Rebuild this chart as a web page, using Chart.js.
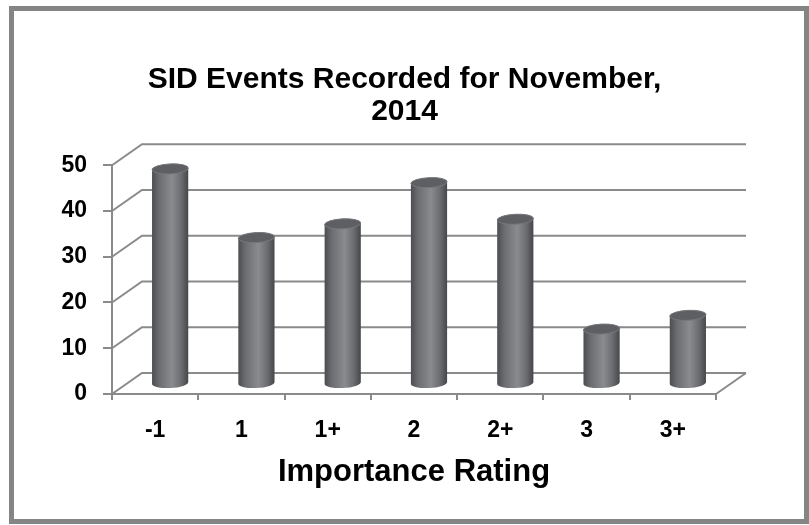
<!DOCTYPE html>
<html lang="en">
<head>
    <meta charset="UTF-8">
    <title>SID Events Recorded for November, 2014</title>
    <script src="https://cdn.jsdelivr.net/npm/chart.js"></script>
    <style>
        body { margin: 0; background: #fff; }
        #wrap { position: relative; width: 809px; height: 525px; }
        #frame { position: absolute; left: 9px; top: 6px; width: 790px; height: 508px; border: 5px solid #858585; pointer-events: none; }
    </style>
</head>
<body>
<div id="wrap">
    <canvas id="sidChart" width="809" height="525"></canvas>
    <div id="frame"></div>
</div>

<script>
    // chart data
    const categories = ['-1', '1', '1+', '2', '2+', '3', '3+'];
    const eventCounts = [47, 32, 35, 44, 36, 12, 15];
    const yTicks = [0, 10, 20, 30, 40, 50];

    const fontFamily = "'Liberation Sans', Arial, sans-serif";
    const lineColor = '#8a8a8a';

    // fake 3D: back wall offset and bar offset (half depth)
    const wall = { dx: 30, dy: -21 };
    const barShift = { dx: 15, dy: -10 };

    const walls3d = {
        id: 'walls3d',
        beforeDatasetsDraw(chart) {
            const { ctx, chartArea: a, scales: { y } } = chart;
            ctx.save();
            ctx.strokeStyle = lineColor;
            ctx.lineWidth = 2;
            yTicks.forEach(v => {
                const py = y.getPixelForValue(v);
                ctx.beginPath();
                ctx.moveTo(a.left, py);
                ctx.lineTo(a.left + wall.dx, py + wall.dy);
                ctx.lineTo(a.right + wall.dx, py + wall.dy);
                ctx.stroke();
            });
            // right edge of the floor
            ctx.beginPath();
            ctx.moveTo(a.right, a.bottom);
            ctx.lineTo(a.right + wall.dx, a.bottom + wall.dy);
            ctx.stroke();
            ctx.restore();
        },
        afterDatasetsDraw(chart) {
            const ctx = chart.ctx;
            const meta = chart.getDatasetMeta(0);
            const ry = 5, tilt = -0.05;
            ctx.save();
            meta.data.forEach(el => {
                const cx = el.x + barShift.dx;
                const top = el.y + barShift.dy;
                const bot = el.base + barShift.dy;
                const rx = el.width / 2;

                const g = ctx.createLinearGradient(cx - rx, 0, cx + rx, 0);
                g.addColorStop(0, '#4c4d51');
                g.addColorStop(0.2, '#6c6d71');
                g.addColorStop(0.55, '#8a8b8f');
                g.addColorStop(0.8, '#6c6d71');
                g.addColorStop(1, '#46474b');

                // body with rounded bottom
                ctx.beginPath();
                ctx.ellipse(cx, top, rx, ry, tilt, Math.PI, 0, false);
                ctx.ellipse(cx, bot, rx, ry, tilt, 0, Math.PI, false);
                ctx.closePath();
                ctx.fillStyle = g;
                ctx.fill();

                // top cap
                ctx.beginPath();
                ctx.ellipse(cx, top, rx, ry, tilt, 0, Math.PI * 2);
                ctx.fillStyle = '#5e5f63';
                ctx.fill();
                ctx.strokeStyle = '#77787c';
                ctx.lineWidth = 1;
                ctx.stroke();
            });
            ctx.restore();
        }
    };

    const ctx = document.getElementById('sidChart').getContext('2d');

    new Chart(ctx, {
        type: 'bar',
        data: {
            labels: categories,
            datasets: [{
                label: 'SID Events',
                data: eventCounts,
                backgroundColor: 'rgba(0,0,0,0)',
                borderWidth: 0,
                barPercentage: 0.42,
                categoryPercentage: 1
            }]
        },
        options: {
            responsive: false,
            animation: false,
            layout: { padding: 0 },
            plugins: {
                legend: { display: false },
                tooltip: { enabled: false },
                title: {
                    display: true,
                    text: ['SID Events Recorded for November,', '2014'],
                    color: '#000',
                    font: { family: fontFamily, size: 30, weight: 'bold', lineHeight: 1.07 },
                    padding: { top: 64, bottom: 37 }
                }
            },
            scales: {
                x: {
                    grid: { drawOnChartArea: false, tickLength: 6, color: lineColor, lineWidth: 2 },
                    border: { color: lineColor, width: 2 },
                    ticks: {
                        color: '#000',
                        font: { family: fontFamily, size: 23, weight: 'bold' },
                        padding: 17,
                        maxRotation: 0
                    },
                    title: {
                        display: true,
                        text: 'Importance Rating',
                        color: '#000',
                        font: { family: fontFamily, size: 31, weight: 'bold' },
                        padding: { top: 0, bottom: 34 }
                    },
                    afterFit(scale) { scale.height = 131; }
                },
                y: {
                    min: 0,
                    max: 50,
                    grid: { drawOnChartArea: false, tickLength: 9, color: lineColor, lineWidth: 2 },
                    border: { color: lineColor, width: 2 },
                    ticks: {
                        color: '#000',
                        font: { family: fontFamily, size: 23, weight: 'bold' },
                        padding: 16
                    },
                    afterBuildTicks(scale) { scale.ticks = yTicks.map(v => ({ value: v })); },
                    afterFit(scale) { scale.width = 112; }
                },
                // empty right axis only to reserve the space right of the plot
                yRight: {
                    position: 'right',
                    grid: { display: false },
                    border: { display: false },
                    ticks: { display: false },
                    afterFit(scale) { scale.width = 93; }
                }
            }
        },
        plugins: [walls3d]
    });
</script>
</body>
</html>
